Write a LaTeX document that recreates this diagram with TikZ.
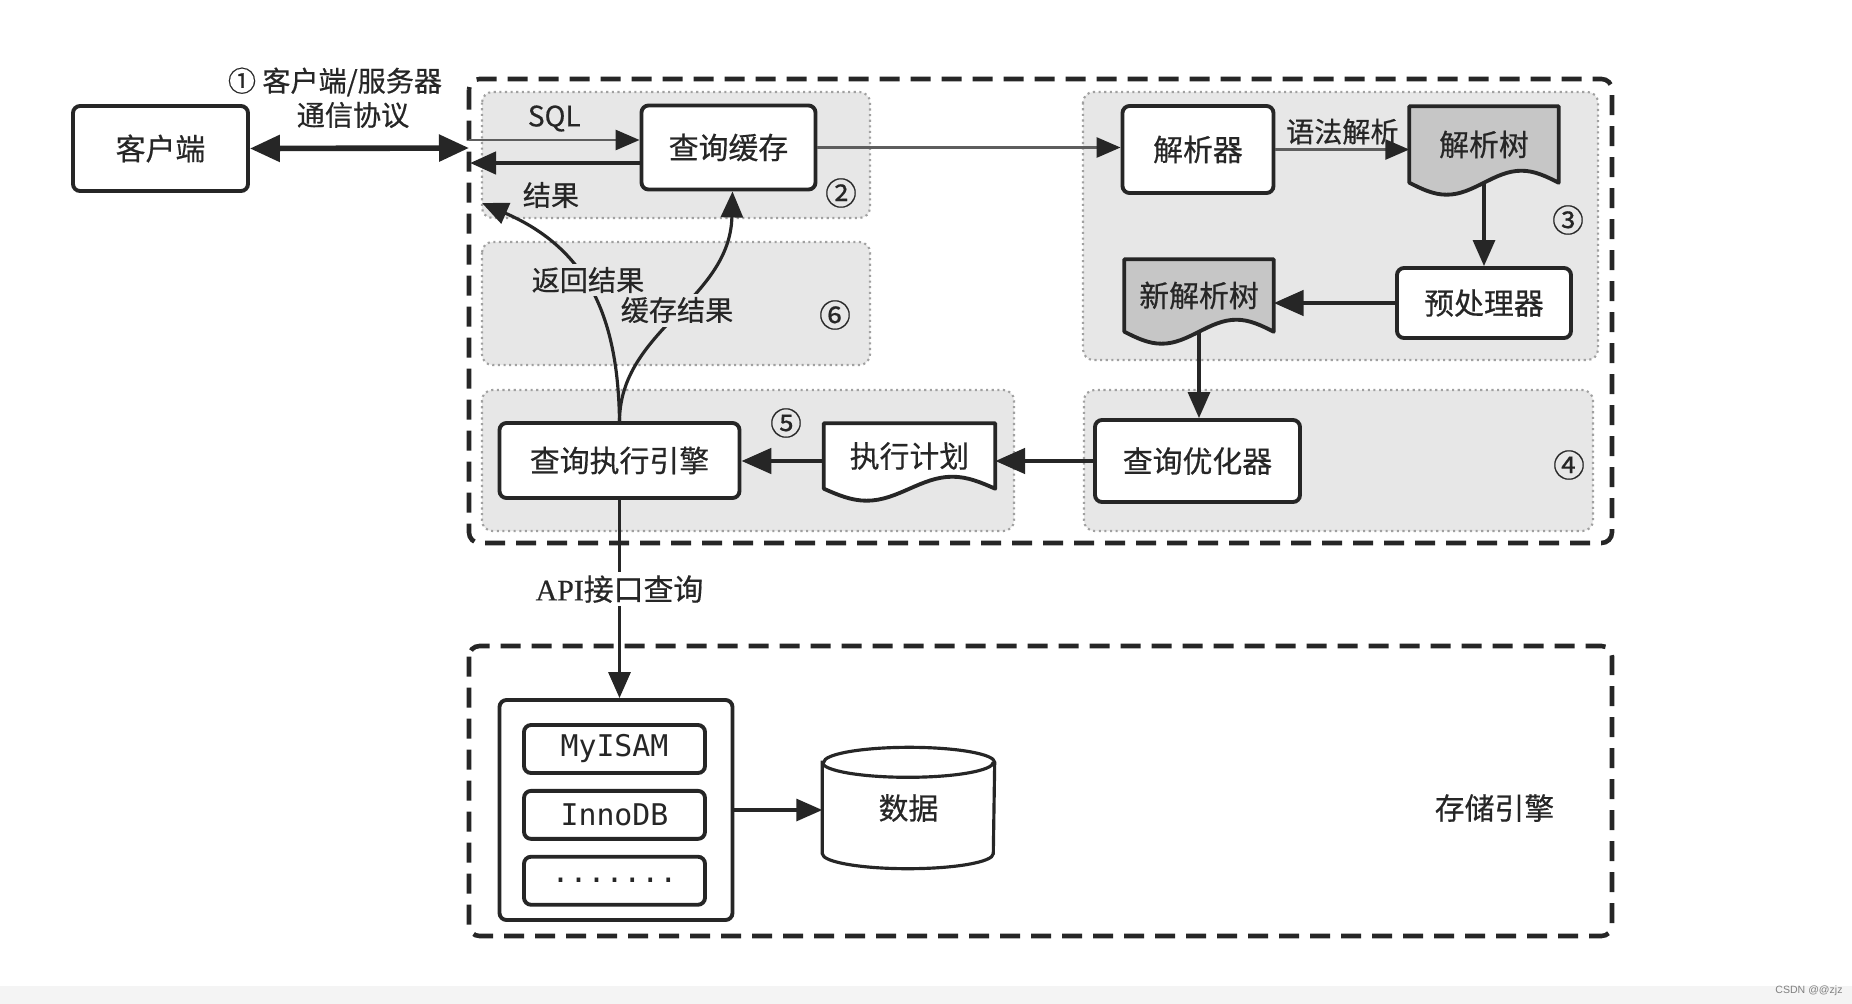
\documentclass[tikz,border=0pt]{standalone}
\usepackage{fontspec}
\setmainfont{Noto Sans CJK SC}[FakeBold=0.5]
\newfontfamily\codefont{DejaVu Sans Mono}
\newfontfamily\apifont{Liberation Serif}[FakeBold=0.5]
\newfontfamily\markfont{Liberation Sans}
\usetikzlibrary{arrows.meta,calc,positioning}

\definecolor{ink}{HTML}{262626}
\definecolor{thingray}{HTML}{5E5E5E}
\definecolor{regiongray}{HTML}{E7E7E7}
\definecolor{regionedge}{HTML}{A0A0A0}
\definecolor{treegray}{HTML}{C6C6C6}
\definecolor{stripgray}{HTML}{F4F4F4}

\pgfdeclarelayer{regions}
\pgfdeclarelayer{docs}
\pgfsetlayers{regions,docs,main}

\tikzset{
  box/.style 2 args={draw=ink, line width=1.1pt, rounded corners=2pt, fill=white,
    minimum width=#1, minimum height=#2, inner sep=0pt},
  docnode/.style 2 args={minimum width=#1, minimum height=#2, inner sep=0pt},
  region/.style={fill=regiongray, draw=regionedge, densely dotted, line width=0.6pt, rounded corners=3pt},
  tier/.style={draw=ink, line width=1.3pt, dash pattern=on 0.2cm off 0.11cm, rounded corners=3pt},
  flow/.style={draw=ink, line width=0.9pt, -{Triangle[length=0.26cm,width=0.22cm]}},
  heavyflow/.style={draw=ink, line width=1.4pt, -{Triangle[length=0.3cm,width=0.25cm]}},
  thinflow/.style={draw=thingray, line width=0.8pt, -{Triangle[length=0.24cm,width=0.2cm,color=ink]}},
  tag/.style={font=\fontsize{8}{9}\selectfont, inner sep=1pt},
  stepno/.style={font=\fontsize{9}{10}\selectfont, inner sep=0pt},
}

% wavy "document" outline round a named node
\newcommand{\wavedoc}[2]{%
  \draw[draw=ink, line width=1.1pt, fill=#2, line join=round]
    (#1.north west) -- (#1.north east) -- (#1.south east)
    sin ($(#1.south west)!0.75!(#1.south east)+(0,0.12)$)
    cos ($(#1.south west)!0.5!(#1.south east)$)
    sin ($(#1.south west)!0.25!(#1.south east)-(0,0.12)$)
    cos (#1.south west) -- cycle;}

\begin{document}
\begin{tikzpicture}[font=\fontsize{8.5}{10}\selectfont, text=ink]
  \useasboundingbox (0,0) rectangle (18.52,-10.04);

  \begin{pgfonlayer}{regions}
    \fill[white] (0,0) rectangle (18.52,-10.04);
    \fill[stripgray] (0,-9.86) rectangle (18.52,-10.04);
    \draw[region] (4.82,-0.92) rectangle (8.70,-2.18);
    \draw[region] (4.82,-2.42) rectangle (8.70,-3.65);
    \draw[region] (4.82,-3.90) rectangle (10.14,-5.31);
    \draw[region] (10.83,-0.92) rectangle (15.98,-3.60);
    \draw[region] (10.84,-3.90) rectangle (15.93,-5.31);
  \end{pgfonlayer}

  \draw[tier] (4.69,-0.79) rectangle (16.12,-5.43);
  \draw[tier] (4.69,-6.46) rectangle (16.12,-9.36);

  \node[box={1.75cm}{0.85cm}] (client) at (1.605,-1.485) {客户端};
  \node[box={1.74cm}{0.84cm}] (cache) at (7.285,-1.475) {查询缓存};
  \node[box={1.51cm}{0.87cm}] (parser) at (11.98,-1.495) {解析器};
  \node[docnode={1.48cm}{0.75cm}] (ptree) at (14.84,-1.445) {解析树};
  \node[box={1.74cm}{0.70cm}] (preproc) at (14.84,-3.03) {预处理器};
  \node[docnode={1.48cm}{0.71cm}] (newtree) at (11.99,-2.955) {新解析树};
  \node[box={2.05cm}{0.82cm}] (optimizer) at (11.975,-4.61) {查询优化器};
  \node[docnode={1.70cm}{0.64cm}] (plan) at (9.095,-4.56) {执行计划};
  \node[box={2.40cm}{0.75cm}] (executor) at (6.195,-4.605) {查询执行引擎};

  \node[box={2.33cm}{2.20cm}] (engines) at (6.16,-8.10) {};
  \node[box={1.81cm}{0.48cm}] (myisam) at (6.145,-7.49) {\codefont MyISAM};
  \node[box={1.81cm}{0.48cm}, below=0.14cm of myisam] (innodb) {\codefont InnoDB};
  \node[box={1.81cm}{0.48cm}, below=0.14cm of innodb] (more) {\codefont .......};
  \node[docnode={1.71cm}{1.20cm}] (data) at (9.085,-8.08) {\raisebox{-0.12cm}{数据}};

  \begin{pgfonlayer}{docs}
    \wavedoc{ptree}{treegray}
    \wavedoc{newtree}{treegray}
    \wavedoc{plan}{white}
    \draw[draw=ink, line width=0.9pt, fill=white]
      ($(data.north west)+(0,-0.15)$) -- ($(data.south west)+(0,0.15)$)
      arc[start angle=180, end angle=360, x radius=0.855cm, y radius=0.15cm]
      -- ($(data.north east)+(0,-0.15)$)
      arc[start angle=0, end angle=180, x radius=0.855cm, y radius=0.15cm] -- cycle;
    \draw[draw=ink, line width=0.9pt] ($(data.north west)+(0,-0.15)$)
      arc[start angle=180, end angle=360, x radius=0.855cm, y radius=0.15cm];
  \end{pgfonlayer}

  \coordinate (srvedge) at (4.69,-1.48);
  \coordinate (sqlin) at (4.69,-1.40);
  \coordinate (resout) at (4.70,-1.63);
  \coordinate (backtip) at (4.82,-2.03);

  \draw[draw=ink, line width=1.6pt, {Triangle[length=0.3cm,width=0.26cm]}-{Triangle[length=0.3cm,width=0.26cm]}]
    (client.east) -- (srvedge);
  \draw[thinflow] (sqlin) -- (sqlin -| cache.west) node[midway, above=1pt, tag] (sqllbl) {SQL};
  \draw[flow, line width=1.3pt] (resout -| cache.west) -- (resout);
  \draw[thinflow] (cache.east) -- (cache.east -| parser.west);
  \draw[thinflow] (parser.east) -- (parser.east -| ptree.west) node[midway, above, tag] (synlbl) {语法解析};
  \draw[flow] (ptree.south) -- (preproc.north);
  \draw[heavyflow] (preproc.west) -- (preproc.west -| newtree.east);
  \draw[flow] (newtree.south) -- (newtree.south |- optimizer.north);
  \draw[heavyflow] (optimizer.west) -- (optimizer.west -| plan.east);
  \draw[heavyflow] (optimizer.west -| plan.west) -- (optimizer.west -| executor.east);

  \draw[flow] (executor.north) .. controls (6.18,-3.2) and (5.9,-2.5) .. (backtip);
  \draw[flow] (executor.north) .. controls (6.2,-3.3) and (7.3,-3.0) .. ([xshift=0.04cm]cache.south);
  \draw[flow] (executor.south) -- (executor.south |- engines.north)
    node[pos=0.45, fill=white, tag, font=\fontsize{8.5}{10}\selectfont] (apilbl) {{\apifont API}接口查询};
  \draw[flow] (engines.east) -- (engines.east -| data.west);

  \node[tag] (proto) at (3.35,-0.82) {① 客户端/服务器};
  \node[tag] (protob) at (3.53,-1.15) {通信协议};
  \node[tag] (reslbl) at (5.51,-1.95) {结果};
  \node[tag, fill=regiongray] (backlbl) at (5.88,-2.80) {返回结果};
  \node[tag, fill=regiongray] (keeplbl) at (6.77,-3.10) {缓存结果};
  \node (storelbl) at (14.945,-8.08) {存储引擎};

  \node[stepno] (s2) at (8.41,-1.93) {②};
  \node[stepno] (s3) at (15.68,-2.20) {③};
  \node[stepno] (s4) at (15.69,-4.65) {④};
  \node[stepno] (s5) at (7.86,-4.23) {⑤};
  \node[stepno] (s6) at (8.35,-3.15) {⑥};

  \node[font=\markfont\fontsize{3}{3.5}\selectfont, text=gray, inner sep=0pt] (wmark) at (18.09,-9.905) {CSDN @@zjz};
\end{tikzpicture}
\end{document}
